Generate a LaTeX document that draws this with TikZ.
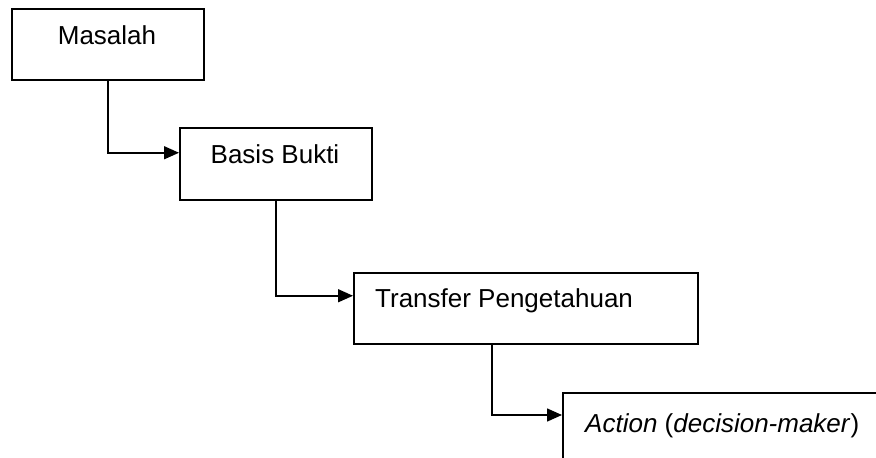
\documentclass[tikz,border=0pt]{standalone}
\usepackage{fontspec}
\setmainfont{Liberation Sans}
\usetikzlibrary{arrows.meta,calc}

\begin{document}
\begin{tikzpicture}[
    x=1pt, y=-1pt,
    box/.style={rectangle, draw, line width=1.5pt, anchor=north west, inner sep=0pt},
    label/.style={inner sep=0pt, font=\fontsize{26}{30}\selectfont},
    arrow/.style={-{Triangle[length=15pt,width=13pt]}, line width=1.5pt}
]
\clip (0,0) rectangle (876,458);

% Boxes
\node[box, minimum width=192pt, minimum height=71pt] (masalah) at (11,8) {};
\node[box, minimum width=192pt, minimum height=72pt] (basis) at (179,127) {};
\node[box, minimum width=344pt, minimum height=71pt] (transfer) at (353,272) {};
\node[box, minimum width=360pt, minimum height=100pt] (action) at (562,392) {};

% Texts
\node[label, anchor=base] (tmasalah) at (107,44) {Masalah};
\node[label, anchor=base] (tbasis) at (275,163) {Basis Bukti};
\node[label, anchor=base west] (ttransfer) at (375,307) {Transfer Pengetahuan};
\node[label, anchor=base west] (taction) at (585,432) {\textit{Action} (\textit{decision-maker})};

% Connectors
\coordinate (out3) at ($(transfer.south west)+(139,0)$);
\draw[arrow] (masalah.south) |- ([yshift=11pt]basis.west);
\draw[arrow] (basis.south) |- ([yshift=12.5pt]transfer.west);
\draw[arrow] (out3) |- ($(action.north west)+(0,23)$);

\end{tikzpicture}
\end{document}
